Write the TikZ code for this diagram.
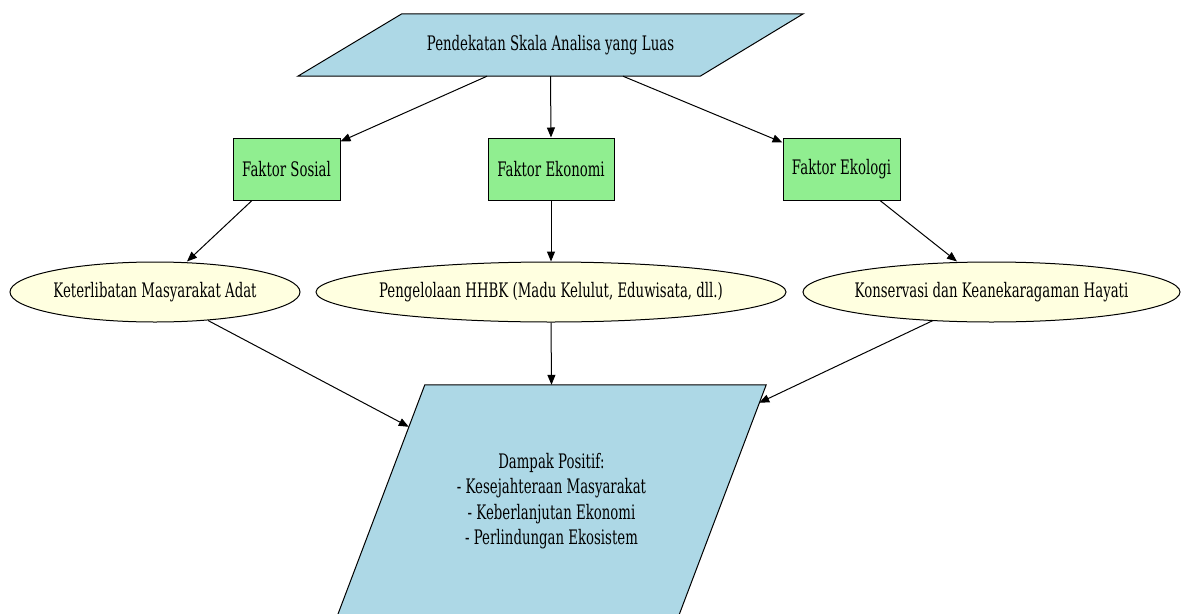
\documentclass[tikz,border=0pt]{standalone}
\usepackage{fontspec}
\setmainfont{DejaVu Serif}[FakeStretch=0.665]
\usetikzlibrary{arrows.meta,calc,shapes.geometric}
\definecolor{paraBlue}{HTML}{ADD8E6}
\definecolor{boxGreen}{HTML}{90EE90}
\definecolor{ellYellow}{HTML}{FFFFE0}
\begin{document}
\begin{tikzpicture}[x=1pt,y=-1pt,
  every node/.style={font=\fontsize{20}{25.5}\selectfont, inner sep=0pt, align=center},
  parabox/.style={rectangle, draw=none},
  factorbox/.style={rectangle, draw=black, line width=1pt, fill=boxGreen, minimum height=62pt},
  ellnode/.style={ellipse, draw=black, line width=1pt, fill=ellYellow, minimum height=60pt},
  paraedge/.style={draw=black, line width=1pt, fill=paraBlue},
  conn/.style={draw=black, line width=1pt, -{Triangle[length=10pt,width=8pt]}}
]
\useasboundingbox (0,0) rectangle (1185,613);
\clip (0,0) rectangle (1185,613);

% top parallelogram
\node[parabox, minimum width=505pt, minimum height=62pt] (top) at (550.5,45) {};
\path[paraedge] ($(top.north west)+(104,0)$) -- (top.north east) -- ($(top.south east)+(-103,0)$) -- (top.south west) -- cycle;
\node (toptext) at (top.center) {Pendekatan Skala Analisa yang Luas};

% factor boxes
\node[factorbox, minimum width=107pt] (fs) at (286.5,169) {Faktor Sosial};
\node[factorbox, minimum width=126pt] (fe) at (551,169) {Faktor Ekonomi};
\node[factorbox, minimum width=117pt] (fk) at (841.5,169) {Faktor Ekologi};

% ellipses
\node[ellnode, minimum width=290pt] (ks) at (155,292) {};
\node (kstext) at (ks.center) {Keterlibatan Masyarakat Adat};
\node[ellnode, minimum width=470pt] (pg) at (551,292) {};
\node (pgtext) at (pg.center) {Pengelolaan HHBK (Madu Kelulut, Eduwisata, dll.)};
\node[ellnode, minimum width=377pt] (kv) at (991.5,292) {};
\node (kvtext) at (kv.center) {Konservasi dan Keanekaragaman Hayati};

% bottom parallelogram
\node[parabox, minimum width=429pt, minimum height=232pt] (dp) at (551.5,501) {};
\path[paraedge] ($(dp.north west)+(88,0)$) -- (dp.north east) -- ($(dp.south east)+(-88,0)$) -- (dp.south west) -- cycle;
\node (dptext) at (dp.center) {Dampak Positif:\\- Kesejahteraan Masyarakat\\- Keberlanjutan Ekonomi\\- Perlindungan Ekosistem};

% connectors
\draw[conn] ($(top.south)+(-63.5,0)$) -- ($(fs.north east)+(0,4)$);
\draw[conn] (top.south) -- (fe.north);
\draw[conn] ($(top.south)+(72.5,0)$) -- ($(fk.north west)+(0,5)$);
\draw[conn] ($(fs.south)+(-34.5,0)$) -- ($(ks.north)+(32,0)$);
\draw[conn] (fe.south) -- (pg.north);
\draw[conn] ($(fk.south)+(38.5,0)$) -- ($(kv.north)+(-34.5,0)$);
\draw[conn] ($(ks.south)+(53,-2)$) -- ($(dp.north west)+(72,42)$);
\draw[conn] (pg.south) -- (dp.north);
\draw[conn] ($(kv.south)+(-58.5,-2)$) -- ($(dp.north east)+(-7,18)$);
\end{tikzpicture}
\end{document}
